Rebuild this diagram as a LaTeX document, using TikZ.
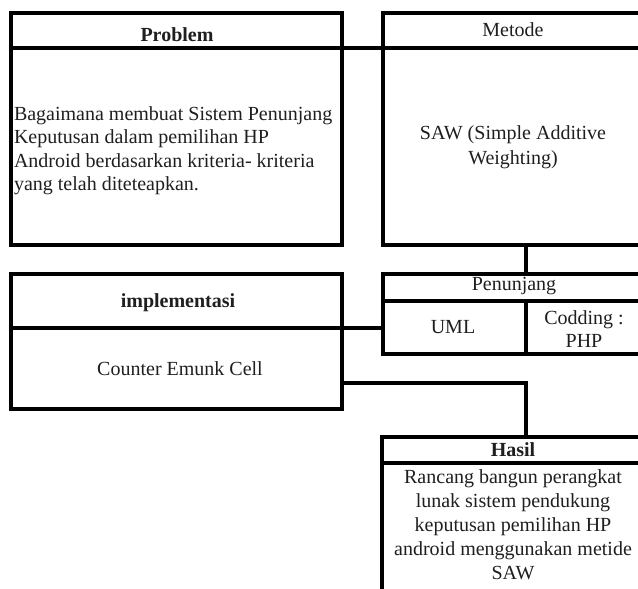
\documentclass[tikz,border=0pt]{standalone}
\usepackage{fontspec}
\setmainfont{Liberation Serif}
\begin{document}
\begin{tikzpicture}[x=1pt,y=-1pt,
  box/.style={draw, line width=4.2pt, inner sep=0pt, outer sep=0pt, anchor=north west},
  txt/.style={inner sep=0pt, outer sep=0pt, text=black!88, font=\fontsize{20}{24}\selectfont},
  btxt/.style={txt, font=\fontsize{20}{24}\selectfont\bfseries},
  conn/.style={line width=4.2pt}]
\useasboundingbox (0,0) rectangle (638,589);
\fill[white] (0,0) rectangle (638,589);
\clip (0,0) rectangle (638,589);
% Problem
\node[box, minimum width=331pt, minimum height=35pt] (probH) at (11,13) {};
\node[box, minimum width=331pt, minimum height=197pt] (probB) at (11,48) {};
% Metode
\node[box, minimum width=262pt, minimum height=35pt] (metH) at (383,13) {};
\node[box, minimum width=262pt, minimum height=197pt] (metB) at (383,48) {};
% Penunjang
\node[box, minimum width=262pt, minimum height=27pt] (penH) at (383,274) {};
\node[box, minimum width=143pt, minimum height=53pt] (uml) at (383,301) {};
\node[box, minimum width=119pt, minimum height=53pt] (cod) at (526,301) {};
% implementasi
\node[box, minimum width=331pt, minimum height=54pt] (impH) at (11,274) {};
\node[box, minimum width=331pt, minimum height=81pt] (impB) at (11,328) {};
% Hasil
\node[box, minimum width=263pt, minimum height=26pt] (hasH) at (382,437) {};
\node[box, minimum width=263pt, minimum height=140pt] (hasB) at (382,463) {};
% texts
\node[btxt, anchor=base] (probT) at (177,41.5) {Problem};
\node[txt, anchor=north west, align=left, font=\fontsize{20}{23.5}\selectfont] (probX) at (14,106.3)
  {Bagaimana membuat Sistem Penunjang\\Keputusan dalam pemilihan HP\\Android berdasarkan kriteria- kriteria\\yang telah diteteapkan.};
\node[txt, anchor=base] (metT) at (513,36) {Metode};
\node[txt, anchor=north, align=center, font=\fontsize{20}{25}\selectfont] (metX) at (513,126)
  {SAW (Simple Additive\\Weighting)};
\node[txt, anchor=base] (penT) at (514,290) {Penunjang};
\node[txt, anchor=base] (umlT) at (453,333) {UML};
\node[txt, anchor=north, align=center, font=\fontsize{20}{23}\selectfont] (codT) at (584,311) {Codding :\\PHP};
\node[btxt, anchor=base] (impT) at (178,307) {implementasi};
\node[txt, anchor=base] (impX) at (180,375) {Counter Emunk Cell};
\node[btxt, anchor=base] (hasT) at (513,456.5) {Hasil};
\node[txt, anchor=north, align=center] (hasX) at (513,469.3)
  {Rancang bangun perangkat\\lunak sistem pendukung\\keputusan pemilihan HP\\android menggunakan metide\\SAW};
% connectors
\draw[conn] (probH.south east) -- (metH.south west);
\draw[conn] (metB.south -| uml.east) -- (penH.north -| uml.east);
\draw[conn] (impH.south east) -- (impH.south east -| penH.west);
\draw[conn] ([yshift=-14.5pt]impB.east) -| (hasH.north -| uml.east);
\end{tikzpicture}
\end{document}
